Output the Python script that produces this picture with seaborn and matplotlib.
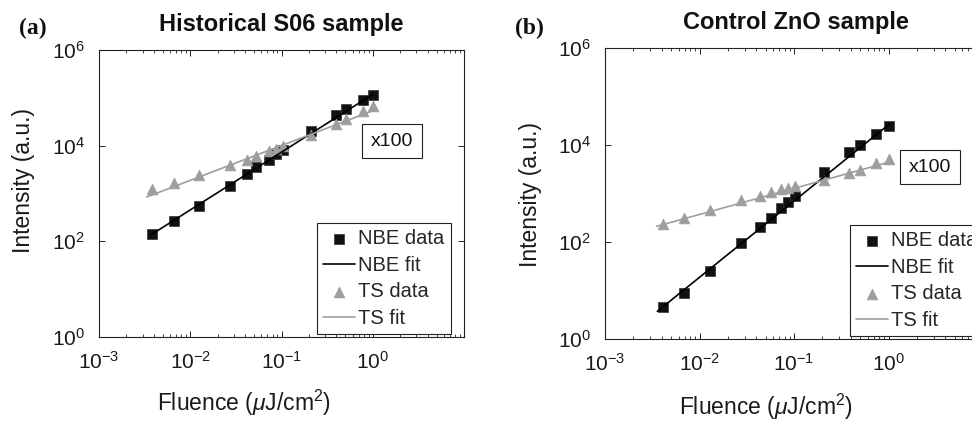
import numpy as np
import matplotlib
matplotlib.use('Agg')
import matplotlib.pyplot as plt
import seaborn as sns
from matplotlib.ticker import LogLocator, NullLocator, NullFormatter

# ---- data ----
# (a) Historical S06 sample
fluence_a = [0.00378, 0.0066, 0.0126, 0.0274, 0.0414, 0.0532, 0.0733, 0.0867,
             0.1026, 0.213, 0.40, 0.506, 0.78, 1.0]
nbe_a = [140, 262, 548, 1458, 2600, 3580, 5100, 6800, 8250, 19950, 43000,
         57500, 88700, 112000]
ts_a = [1220, 1660, 2400, 4000, 5100, 6080, 7740, 8650, 9840, 16400, 27900,
        35500, 52200, 66400]
nbe_fit_x_a = [0.00378, 1.0]
nbe_fit_y_a = [140, 118000]
ts_fit_x_a = [0.00333, 1.1]
ts_fit_y_a = [845, 57700]

# (b) Control ZnO sample
fluence_b = [0.00411, 0.00687, 0.0129, 0.0278, 0.0435, 0.0568, 0.0731, 0.0867,
             0.1028, 0.208, 0.384, 0.50, 0.735, 1.0]
nbe_b = [4.6, 8.9, 25.6, 95, 204, 313, 503, 668, 876, 2775, 7060, 10000,
         17100, 24200]
ts_b = [239, 313, 464, 746, 876, 1057, 1238, 1298, 1405, 1928, 2650, 3100,
        4250, 5150]
nbe_fit_x_b = [0.00358, 1.034]
nbe_fit_y_b = [3.72, 27500]
ts_fit_x_b = [0.0035, 1.03]
ts_fit_y_b = [210, 4480]

titles = ['Historical S06 sample', 'Control ZnO sample']
panel_tags = ['(a)', '(b)']

sns.set_theme(style='ticks')
plt.rcParams['font.family'] = ['Liberation Sans', 'DejaVu Sans']
plt.rcParams['mathtext.fontset'] = 'custom'
plt.rcParams['mathtext.rm'] = 'Liberation Sans'
plt.rcParams['mathtext.it'] = 'Liberation Sans:italic'
plt.rcParams['mathtext.bf'] = 'Liberation Sans:bold'
plt.rcParams['axes.unicode_minus'] = False

W, H = 972, 421
fig = plt.figure(figsize=(W / 100, H / 100), dpi=100)

# axes boxes in pixels: left, top, right, bottom
boxes = [(99, 50, 464, 337), (605, 48, 983, 339)]
axes = []
for (l, t, r, b) in boxes:
    axes.append(fig.add_axes([l / W, 1 - b / H, (r - l) / W, (b - t) / H]))

dark = '#111111'
grey = '#9e9e9e'

panels = [
    (fluence_a, nbe_a, ts_a, nbe_fit_x_a, nbe_fit_y_a, ts_fit_x_a, ts_fit_y_a),
    (fluence_b, nbe_b, ts_b, nbe_fit_x_b, nbe_fit_y_b, ts_fit_x_b, ts_fit_y_b),
]

for ax, (fx, nbe, ts, nfx, nfy, tfx, tfy) in zip(axes, panels):
    ax.set_xscale('log')
    ax.set_yscale('log')
    sns.scatterplot(x=fx, y=nbe, marker='s', s=42, color=dark,
                    edgecolor='#333333', linewidth=0.5, ax=ax, label='NBE data')
    sns.lineplot(x=nfx, y=nfy, color='black', linewidth=1.2, ax=ax,
                 label='NBE fit')
    sns.scatterplot(x=fx, y=ts, marker='^', s=60, color=grey,
                    edgecolor=grey, linewidth=0.5, ax=ax, label='TS data')
    sns.lineplot(x=tfx, y=tfy, color=grey, linewidth=1.2, ax=ax,
                 label='TS fit')

    ax.set_xlim(1e-3, 1e1)
    ax.set_ylim(1e0, 1e6)
    ax.set_xticks([1e-3, 1e-2, 1e-1, 1e0])
    ax.set_yticks([1e0, 1e2, 1e4, 1e6])
    ax.xaxis.set_minor_locator(LogLocator(base=10, subs=np.arange(2, 10), numticks=20))
    ax.xaxis.set_minor_formatter(NullFormatter())
    ax.yaxis.set_minor_locator(NullLocator())
    ax.tick_params(which='both', direction='in', top=True, right=True,
                   colors='#222222', labelcolor='#1a1a1a', labelsize=15)
    ax.tick_params(axis='x', pad=10)
    ax.tick_params(axis='y', pad=10)
    ax.tick_params(which='major', length=4, width=0.7)
    ax.tick_params(which='minor', length=2.5, width=0.6)
    for sp in ax.spines.values():
        sp.set_linewidth(0.8)
        sp.set_color('#222222')
    ax.get_legend().remove()

# axis labels
label_pos = [((0.397, -0.23), (-0.208, 0.544)), ((0.426, -0.234), (-0.196, 0.495))]
for ax, (xl, yl) in zip(axes, label_pos):
    ax.set_xlabel(r'Fluence ($\mu$J/cm$^2$)', fontsize=16.5, color='#1a1a1a')
    ax.set_ylabel('Intensity (a.u.)', fontsize=16.5, color='#1a1a1a')
    ax.xaxis.set_label_coords(*xl)
    ax.yaxis.set_label_coords(*yl)
    ax.xaxis.label.set_va('center')
    ax.yaxis.label.set_va('center')

# titles and panel tags
title_xy = [(281, 25), (796, 23)]
tag_xy = [(33, 28), (529, 28)]
for t, tag, (tx, ty), (gx, gy) in zip(titles, panel_tags, title_xy, tag_xy):
    fig.text(tx / W, 1 - ty / H, t, ha='center', va='center', fontsize=17,
             fontweight='bold', color='#111111')
    fig.text(gx / W, 1 - gy / H, tag, ha='center', va='center', fontsize=17,
             fontweight='bold', family='Liberation Serif', color='#111111')

# legends (the right one runs past the figure edge, as in the original)
leg_xy = [(317, 223), (850, 225)]
for ax, (lx, ly) in zip(axes, leg_xy):
    h, lab = ax.get_legend_handles_labels()
    leg = ax.legend(h, lab, loc='upper left', bbox_to_anchor=(lx / W, 1 - ly / H),
                    bbox_transform=fig.transFigure, borderaxespad=0, fontsize=14.5,
                    frameon=True, fancybox=False, framealpha=1, edgecolor='#222222',
                    handlelength=1.6, handletextpad=0.15, labelspacing=0.38,
                    borderpad=0.3)
    leg.get_frame().set_linewidth(0.8)

# "x100" boxes
box_xy = [(392, 141), (930, 167)]
for (bx, by) in box_xy:
    fig.text(bx / W, 1 - by / H, 'x100', ha='center', va='center', fontsize=14,
             color='#111111',
             bbox=dict(boxstyle='square,pad=0.45', fc='white', ec='#222222', lw=0.8))

fig.savefig('out.png', dpi=100)
